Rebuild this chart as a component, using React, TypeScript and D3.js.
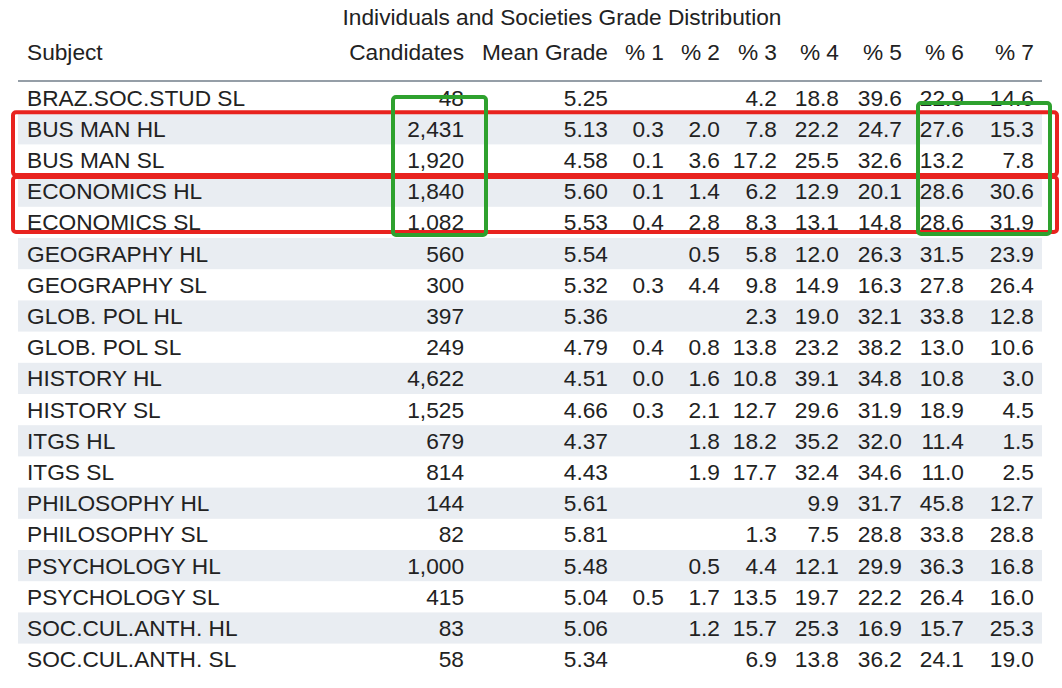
import React from "react";
import * as d3 from "d3";

const title = "Individuals and Societies Grade Distribution";
const headers = ["Subject", "Candidates", "Mean Grade", "% 1", "% 2", "% 3", "% 4", "% 5", "% 6", "% 7"];
const subjects = [
  "BRAZ.SOC.STUD SL", "BUS MAN HL", "BUS MAN SL", "ECONOMICS HL", "ECONOMICS SL",
  "GEOGRAPHY HL", "GEOGRAPHY SL", "GLOB. POL HL", "GLOB. POL SL", "HISTORY HL",
  "HISTORY SL", "ITGS HL", "ITGS SL", "PHILOSOPHY HL", "PHILOSOPHY SL",
  "PSYCHOLOGY HL", "PSYCHOLOGY SL", "SOC.CUL.ANTH. HL", "SOC.CUL.ANTH. SL",
];
const candidates = [48, 2431, 1920, 1840, 1082, 560, 300, 397, 249, 4622, 1525, 679, 814, 144, 82, 1000, 415, 83, 58];
const meanGrade = [5.25, 5.13, 4.58, 5.6, 5.53, 5.54, 5.32, 5.36, 4.79, 4.51, 4.66, 4.37, 4.43, 5.61, 5.81, 5.48, 5.04, 5.06, 5.34];
const pct1 = [null, 0.3, 0.1, 0.1, 0.4, null, 0.3, null, 0.4, 0.0, 0.3, null, null, null, null, null, 0.5, null, null];
const pct2 = [null, 2.0, 3.6, 1.4, 2.8, 0.5, 4.4, null, 0.8, 1.6, 2.1, 1.8, 1.9, null, null, 0.5, 1.7, 1.2, null];
const pct3 = [4.2, 7.8, 17.2, 6.2, 8.3, 5.8, 9.8, 2.3, 13.8, 10.8, 12.7, 18.2, 17.7, null, 1.3, 4.4, 13.5, 15.7, 6.9];
const pct4 = [18.8, 22.2, 25.5, 12.9, 13.1, 12.0, 14.9, 19.0, 23.2, 39.1, 29.6, 35.2, 32.4, 9.9, 7.5, 12.1, 19.7, 25.3, 13.8];
const pct5 = [39.6, 24.7, 32.6, 20.1, 14.8, 26.3, 16.3, 32.1, 38.2, 34.8, 31.9, 32.0, 34.6, 31.7, 28.8, 29.9, 22.2, 16.9, 36.2];
const pct6 = [22.9, 27.6, 13.2, 28.6, 28.6, 31.5, 27.8, 33.8, 13.0, 10.8, 18.9, 11.4, 11.0, 45.8, 33.8, 36.3, 26.4, 15.7, 24.1];
const pct7 = [14.6, 15.3, 7.8, 30.6, 31.9, 23.9, 26.4, 12.8, 10.6, 3.0, 4.5, 1.5, 2.5, 12.7, 28.8, 16.8, 16.0, 25.3, 19.0];

// highlight groups (row ranges)
const redGroups = [["BUS MAN HL", "BUS MAN SL"], ["ECONOMICS HL", "ECONOMICS SL"]];

const W = 1062;
const H = 688;
const FONT = "Liberation Sans, Arial, sans-serif";
const FS = 22.7;
const TEXT = "#222";

// right edges of columns (Subject left-aligned)
const colRight = [0, 464, 608, 664, 720, 777, 839, 902, 964, 1034];

export default function App() {
  const y = d3.scaleBand<string>().domain(subjects).range([82, 82 + 31.2 * subjects.length]).padding(0);
  const fmt1 = d3.format(".1f");
  const fmt2 = d3.format(".2f");
  const fmtC = d3.format(",");
  const pcts = [pct1, pct2, pct3, pct4, pct5, pct6, pct7];
  const rows = subjects.map((s, i) => [
    s,
    fmtC(candidates[i]),
    fmt2(meanGrade[i]),
    ...pcts.map((p) => (p[i] == null ? "" : fmt1(p[i] as number))),
  ]);
  const bw = y.bandwidth();
  const redBoxes = [
    { top: (y(redGroups[0][0]) as number) - 1, bot: (y(redGroups[0][1]) as number) + bw - 0.5 },
    { top: (y(redGroups[1][0]) as number) + 1.5, bot: (y(redGroups[1][1]) as number) + bw - 6 },
  ];
  const greenBoxes = [
    { x0: 393, x1: 486, top: (y(subjects[0]) as number) + 15, bot: (y(subjects[4]) as number) + bw - 3 },
    { x0: 918, x1: 1050, top: (y(subjects[0]) as number) + 21, bot: (y(subjects[4]) as number) + bw - 4 },
  ];
  return (
    <svg width={W} height={H} style={{ position: "absolute", left: 0, top: 0, background: "#fff" }} fontFamily={FONT}>
      <rect x={0} y={0} width={W} height={H} fill="#fff" />
      <text x={562} y={25} textAnchor="middle" fontSize={FS} fill={TEXT}>{title}</text>
      {headers.map((h, c) => (
        <text key={h} x={c === 0 ? 27 : colRight[c]} y={60} textAnchor={c === 0 ? "start" : "end"} fontSize={FS} fill={TEXT}>{h}</text>
      ))}
      {subjects.map((s, i) =>
        i % 2 === 1 ? <rect key={"bg" + s} x={18} y={y(s)} width={1024} height={bw} fill="#e9edf2" /> : null
      )}
      <line x1={18} x2={1042} y1={81} y2={81} stroke="#2c3e50" strokeWidth={1.2} />
      {rows.map((r, i) =>
        r.map((v, c) => (
          <text key={i + "-" + c} x={c === 0 ? 27 : colRight[c]} y={(y(subjects[i]) as number) + bw / 2 + 8} textAnchor={c === 0 ? "start" : "end"} fontSize={FS} fill={TEXT}>{v}</text>
        ))
      )}
      {redBoxes.map((b, k) => (
        <rect key={"r" + k} x={13} y={b.top} width={1044} height={b.bot - b.top} fill="none" stroke="#e8231f" strokeWidth={4} rx={3} />
      ))}
      {greenBoxes.map((b, k) => (
        <rect key={"g" + k} x={b.x0} y={b.top} width={b.x1 - b.x0} height={b.bot - b.top} fill="none" stroke="#2ea12e" strokeWidth={4} rx={3} />
      ))}
    </svg>
  );
}
